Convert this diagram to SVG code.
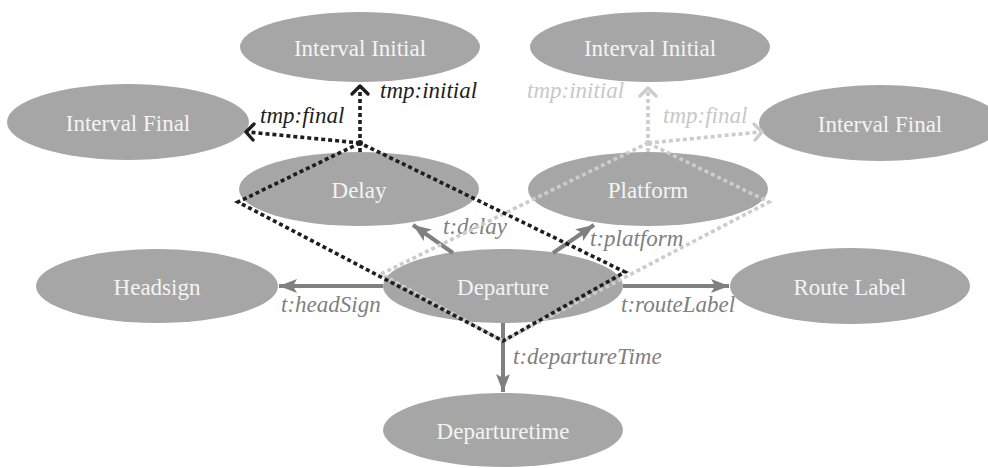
<svg xmlns="http://www.w3.org/2000/svg" width="988" height="468" viewBox="0 0 988 468" font-family="Liberation Serif, serif">
<defs>
<style>
.node ellipse{fill:#a6a6a6;}
.node text{fill:#f4f4f4;font-size:23px;text-anchor:middle;dominant-baseline:central;}
.solid{stroke:#808080;stroke-width:4;fill:none;}
.lbl{font-style:italic;font-size:23px;}
.gl{fill:#808080;}
.bl{fill:#1e1e1e;}
.ll{fill:#c8c8c8;}
.dk{stroke:#1e1e1e;stroke-width:3.6;stroke-dasharray:4 3;fill:none;}
.lt{stroke:#cccccc;stroke-width:3.6;stroke-dasharray:4 3;fill:none;}
.chk{stroke:#1e1e1e;stroke-width:3.4;fill:none;stroke-linecap:round;stroke-linejoin:round;}
.chl{stroke:#cccccc;stroke-width:3.4;fill:none;stroke-linecap:round;stroke-linejoin:round;}
</style>
<marker id="ah" markerUnits="userSpaceOnUse" markerWidth="22" markerHeight="16" refX="18" refY="7" orient="auto">
<path d="M18,7 L0,0 L4,7 L0,14 Z" fill="#808080"/>
</marker>
</defs>
<g id="nodes">
<g id="interval-initial-1" class="node"><ellipse cx="360" cy="47" rx="120" ry="35"/><text x="360" y="48">Interval Initial</text></g>
<g id="interval-initial-2" class="node"><ellipse cx="650" cy="47" rx="120" ry="35"/><text x="650" y="48">Interval Initial</text></g>
<g id="interval-final-1" class="node"><ellipse cx="128" cy="122" rx="121" ry="38"/><text x="128" y="123">Interval Final</text></g>
<g id="interval-final-2" class="node"><ellipse cx="880" cy="123" rx="121" ry="38"/><text x="880" y="124">Interval Final</text></g>
<g id="delay" class="node"><ellipse cx="359" cy="189" rx="120" ry="37"/><text x="359" y="190">Delay</text></g>
<g id="platform" class="node"><ellipse cx="648" cy="189" rx="120" ry="37"/><text x="648" y="190">Platform</text></g>
<g id="headsign" class="node"><ellipse cx="157" cy="286" rx="121" ry="37"/><text x="157" y="287">Headsign</text></g>
<g id="departure" class="node"><ellipse cx="503" cy="286" rx="120" ry="37"/><text x="503" y="287">Departure</text></g>
<g id="route-label" class="node"><ellipse cx="850" cy="286" rx="120" ry="38"/><text x="850" y="287">Route Label</text></g>
<g id="departuretime" class="node"><ellipse cx="503" cy="430" rx="120" ry="37"/><text x="503" y="431">Departuretime</text></g>
</g>
<g id="connectors">
<line class="solid" x1="383" y1="286" x2="279" y2="286" marker-end="url(#ah)"/>
<line class="solid" x1="623" y1="286" x2="729" y2="286" marker-end="url(#ah)"/>
<line class="solid" x1="503" y1="323" x2="503" y2="392" marker-end="url(#ah)"/>
<line class="solid" x1="453" y1="253" x2="413" y2="225" marker-end="url(#ah)"/>
<line class="solid" x1="553" y1="253" x2="594" y2="225" marker-end="url(#ah)"/>
<text class="lbl gl" x="281" y="312">t:headSign</text>
<text class="lbl gl" x="621" y="312">t:routeLabel</text>
<text class="lbl gl" x="513" y="364">t:departureTime</text>
<text class="lbl gl" x="443" y="234">t:delay</text>
<text class="lbl gl" x="590" y="246">t:platform</text>
<path class="lt" d="M648,143 L769,202 L503,341 L381,274 Z"/>
<line class="lt" x1="648" y1="152" x2="648" y2="90"/>
<line class="lt" x1="648" y1="143" x2="760" y2="132"/>
<path class="chl" d="M640,96 L648,88 L656,96"/>
<path class="chl" d="M754,124 L762,132 L755,140"/>
<circle cx="648" cy="143" r="3" fill="#cccccc"/>
<text class="lbl ll" x="527" y="98">tmp:initial</text>
<text class="lbl ll" x="663" y="123">tmp:final</text>
<path class="dk" d="M360,143 L238,202 L503,341 L625,272 Z"/>
<line class="dk" x1="360" y1="152" x2="360" y2="88"/>
<line class="dk" x1="360" y1="143" x2="248" y2="132"/>
<path class="chk" d="M352,94 L360,86 L368,94"/>
<path class="chk" d="M254,124 L246,132 L253,140"/>
<circle cx="360" cy="143" r="3" fill="#1e1e1e"/>
<text class="lbl bl" x="380" y="98">tmp:initial</text>
<text class="lbl bl" x="260" y="123">tmp:final</text>
</g>
</svg>
